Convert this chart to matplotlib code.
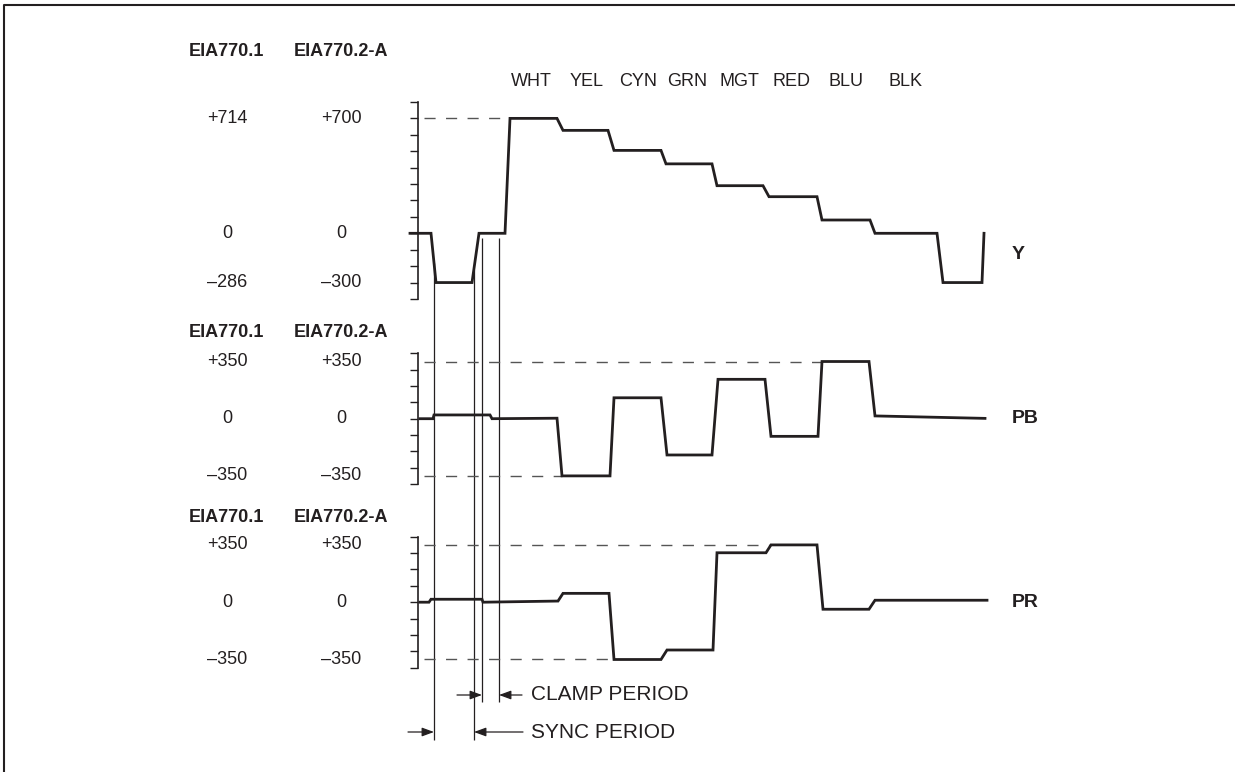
import numpy as np
import matplotlib
matplotlib.use('Agg')
import matplotlib.pyplot as plt

plt.rcParams['font.family'] = ['Liberation Sans', 'DejaVu Sans']

INK = '#231f20'

# time axis is in picture units (same for all three signals)
color_bars = ['WHT', 'YEL', 'CYN', 'GRN', 'MGT', 'RED', 'BLU', 'BLK']
bar_label_t = [531, 587, 638, 687, 739, 792, 846, 906]

# Y signal (mV)
y_t = [410, 431, 436, 472, 479, 505, 510, 557, 563, 608, 614, 661, 666, 712, 717,
       763, 769, 817, 822, 870, 875, 937, 943, 982, 984]
y_v = [0, 0, -300, -300, 0, 0, 700, 700, 627, 627, 505, 505, 423, 423, 290,
       290, 223, 223, 81, 81, 0, 0, -300, -300, 0]

# PB signal (mV)
pb_t = [420, 433, 434, 490, 492, 557, 562, 610, 614, 661, 667, 712, 718, 765, 771,
        818, 822, 869, 875, 985]
pb_v = [0, 0, 23, 23, 0, 3, -350, -350, 128, 128, -222, -222, 241, 241, -108,
        -108, 350, 350, 17, 2]

# PR signal (mV)
pr_t = [420, 429, 431, 482, 483, 558, 563, 609, 614, 661, 667, 713, 717, 766, 771,
        817, 823, 869, 875, 987]
pr_v = [0, 0, 18, 18, 0, 7, 54, 54, -350, -350, -292, -292, 302, 302, 350,
        350, -43, -43, 12, 12]

# level labels: (EIA770.1, EIA770.2-A, level in mV)
y_levels = [('+714', '+700', 700), ('0', '0', 0), ('\u2013286', '\u2013300', -300)]
c_levels = [('+350', '+350', 350), ('0', '0', 0), ('\u2013350', '\u2013350', -350)]

# dashed reference lines: (level, end time)
y_dash = [(700, 510)]
pb_dash = [(350, 822), (-350, 562)]
pr_dash = [(350, 771), (-350, 614)]

# sync / clamp markers
sync_t = [434, 474]
clamp_t = [482, 499]

W, H = 1235, 772
fig = plt.figure(figsize=(12.35, 7.72), dpi=100)

base = fig.add_axes([0, 0, 1, 1])
base.set_xlim(0, W)
base.set_ylim(H, 0)
base.axis('off')

# frame
base.plot([4, 4, W], [H, 5, 5], color=INK, lw=1.5, solid_capstyle='butt')


def signal_axes(zero_px, px_per_mv, lo, hi):
    a = fig.add_axes([0, 0, 1, 1])
    a.set_xlim(0, W)
    a.set_ylim((zero_px - H) / px_per_mv, zero_px / px_per_mv)
    a.patch.set_alpha(0)
    for s in ['top', 'right', 'bottom']:
        a.spines[s].set_visible(False)
    a.spines['left'].set_position(('data', 418))
    a.spines['left'].set_bounds(lo, hi)
    a.spines['left'].set_linewidth(1.2)
    a.spines['left'].set_color(INK)
    a.set_yticks(np.arange(lo, hi + 1, 100))
    a.set_xticks([])
    a.tick_params(axis='y', direction='out', length=5.8, width=1.0,
                  color=INK, labelleft=False)
    return a


ax_y = signal_axes(233.3, 0.16417, -400, 800)
ax_pb = signal_axes(418.7, 0.1634, -400, 400)
ax_pr = signal_axes(602.2, 0.1637, -400, 400)

for a, t, v, dashes, levels in [(ax_y, y_t, y_v, y_dash, y_levels),
                                (ax_pb, pb_t, pb_v, pb_dash, c_levels),
                                (ax_pr, pr_t, pr_v, pr_dash, c_levels)]:
    for lvl, t_end in dashes:
        a.plot([424, t_end], [lvl, lvl], color='#555555', lw=1.0,
               linestyle=(0, (8, 7.5)))
    a.plot(t, v, color=INK, lw=2.0, solid_joinstyle='miter')
    for l1, l2, lvl in levels:
        a.text(227, lvl, l1, fontsize=13, color=INK, ha='center', va='center')
        a.text(341, lvl, l2, fontsize=13, color=INK, ha='center', va='center')

# signal names
ax_y.text(1012, -130, 'Y', fontsize=14, fontweight='bold', color=INK, va='center')
ax_pb.text(1012, 0, 'PB', fontsize=14, fontweight='bold', color=INK, va='center')
ax_pr.text(1012, 0, 'PR', fontsize=14, fontweight='bold', color=INK, va='center')

# standard headers
for yh in [51.7, 332.3, 517]:
    base.text(226, yh, 'EIA770.1', fontsize=13, fontweight='bold', color=INK,
              ha='center', va='center')
    base.text(341, yh, 'EIA770.2-A', fontsize=13, fontweight='bold', color=INK,
              ha='center', va='center')

for name, tx in zip(color_bars, bar_label_t):
    base.text(tx, 81, name, fontsize=13, color=INK, ha='center', va='center')

# marker lines
base.vlines(sync_t[0], 263, 740, color=INK, lw=0.9)
base.vlines(sync_t[1], 270, 740, color=INK, lw=0.9)
base.vlines(clamp_t, 238, 702, color=INK, lw=0.9)

arrow = dict(arrowstyle='-|>,head_length=0.6,head_width=0.22', color=INK,
             lw=0.9, shrinkA=0, shrinkB=0, mutation_scale=12)
base.annotate('', xy=(clamp_t[0], 695), xytext=(457, 695), arrowprops=arrow)
base.annotate('', xy=(clamp_t[1], 695), xytext=(522, 695), arrowprops=arrow)
base.annotate('', xy=(sync_t[0], 732), xytext=(408, 732), arrowprops=arrow)
base.annotate('', xy=(sync_t[1], 732), xytext=(523, 732), arrowprops=arrow)
base.text(531, 695, 'CLAMP PERIOD', fontsize=15, color=INK, va='center')
base.text(531, 732, 'SYNC PERIOD', fontsize=15, color=INK, va='center')

fig.savefig('out.png', dpi=100)
